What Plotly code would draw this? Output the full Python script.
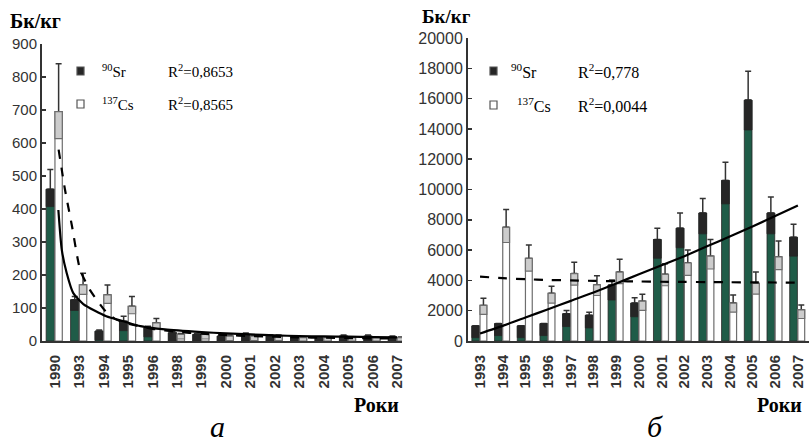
import plotly.graph_objects as go

# ---------------- data ----------------
years_a = ['1990', '1993', '1994', '1995', '1996', '1998', '1999', '2000',
           '2001', '2002', '2003', '2004', '2005', '2006', '2007']
sr_a = [460, 125, 30, 60, 40, 25, 20, 15, 20, 15, 10, 10, 15, 15, 12]
sr_a_err = [60, 10, 3, 15, 5, 4, 3, 3, 4, 3, 2, 2, 3, 3, 3]
cs_a = [695, 170, 140, 105, 55, 20, 20, 15, 15, 15, 10, 10, 10, 10, 10]
cs_a_err = [145, 35, 30, 30, 13, 3, 3, 3, 3, 3, 2, 2, 2, 2, 2]

# trend lines of panel a (position in category units, value)
trend_sr_a_x = [0.14, 0.28, 0.48, 0.75, 1.16, 2.1, 2.8, 3.5, 4.5, 6, 7, 8, 9, 10, 11, 12, 13, 14]
trend_sr_a_y = [397, 276, 206, 145, 112, 75, 60, 45, 35, 27, 23, 20, 17, 15, 14, 13, 12, 11]
trend_cs_a_x = [0.15, 0.41, 0.7, 1.03, 1.43, 2.13, 2.54, 3, 4, 5, 6, 7, 8, 9, 10, 11, 12, 13, 14]
trend_cs_a_y = [580, 459, 347, 216, 155, 85, 64, 52, 37, 28, 22, 18, 15, 13, 11, 10, 9, 8, 8]

years_b = ['1993', '1994', '1995', '1996', '1997', '1998', '1999', '2000',
           '2001', '2002', '2003', '2004', '2005', '2006', '2007']
sr_b = [1000, 1150, 1000, 1150, 1800, 1700, 3700, 2500, 6700, 7450, 8450, 10600, 15900, 8450, 6850]
sr_b_err = [0, 0, 0, 0, 220, 200, 330, 350, 750, 1000, 950, 1200, 1900, 1050, 850]
cs_b = [2350, 7500, 5450, 3150, 4450, 3700, 4550, 2630, 4400, 5150, 5600, 2500, 3800, 5550, 2050]
cs_b_err = [470, 1180, 880, 470, 750, 600, 850, 450, 700, 850, 1100, 530, 750, 1050, 330]

trend_sr_b = [500, 1000, 1550, 2100, 2650, 3200, 3800, 4400, 5000, 5600, 6250, 6900, 7550, 8250, 8950]
trend_cs_b = [4250, 4150, 4080, 4030, 4000, 3970, 3950, 3930, 3910, 3900, 3890, 3880, 3870, 3860, 3850]

r2_a = ['0,8653', '0,8565']
r2_b = ['0,778', '0,0044']

# ---------------- styling ----------------
W, H = 809, 443
GREEN = '#1f5c48'
DARK = '#262626'
CS_LINE = '#6e6e6e'
CS_TOP = '#cccccc'
AX = '#333333'


def px(x):
    return x / W


def py(y):
    return 1 - y / H


fig = go.Figure()


def add_panel(xa, ya, sr, sr_err, cs, cs_err, dark_frac, dark_min, cs_frac, cs_min):
    idx = list(range(len(sr)))
    sr_dark = [min(v, dark_frac * v + dark_min) for v in sr]
    cs_dark = [min(v, cs_frac * v + cs_min) for v in cs]
    fig.add_trace(go.Bar(x=idx, y=sr, offset=-0.36, width=0.34, xaxis=xa, yaxis=ya,
                         marker=dict(color=GREEN, line=dict(color=DARK, width=0.8)),
                         error_y=dict(type='data', array=sr_err, arrayminus=[0] * len(sr),
                                      symmetric=False, color=AX, thickness=1.5, width=3),
                         showlegend=False, hoverinfo='skip'))
    fig.add_trace(go.Bar(x=idx, y=sr_dark, base=[v - d for v, d in zip(sr, sr_dark)],
                         offset=-0.36, width=0.34, xaxis=xa, yaxis=ya,
                         marker=dict(color=DARK, line=dict(color=DARK, width=0.8)),
                         showlegend=False, hoverinfo='skip'))
    fig.add_trace(go.Bar(x=idx, y=cs, offset=0.0, width=0.3, xaxis=xa, yaxis=ya,
                         marker=dict(color='white', line=dict(color=CS_LINE, width=1.2)),
                         error_y=dict(type='data', array=cs_err, arrayminus=[0] * len(cs),
                                      symmetric=False, color=AX, thickness=1.5, width=3),
                         showlegend=False, hoverinfo='skip'))
    fig.add_trace(go.Bar(x=idx, y=cs_dark, base=[v - d for v, d in zip(cs, cs_dark)],
                         offset=0.0, width=0.3, xaxis=xa, yaxis=ya,
                         marker=dict(color=CS_TOP, line=dict(color=CS_LINE, width=1.2)),
                         showlegend=False, hoverinfo='skip'))


add_panel('x', 'y', sr_a, sr_a_err, cs_a, cs_a_err, 0.06, 25, 0.1, 12)
add_panel('x2', 'y2', sr_b, sr_b_err, cs_b, cs_b_err, 0.08, 700, 0.08, 400)

# trend lines
fig.add_trace(go.Scatter(x=trend_sr_a_x, y=trend_sr_a_y, mode='lines', xaxis='x', yaxis='y',
                         line=dict(color='black', width=2.2, shape='spline', smoothing=0.6),
                         showlegend=False, hoverinfo='skip'))
fig.add_trace(go.Scatter(x=trend_cs_a_x, y=trend_cs_a_y, mode='lines', xaxis='x', yaxis='y',
                         line=dict(color='black', width=2.2, dash='dash', shape='spline', smoothing=0.6),
                         showlegend=False, hoverinfo='skip'))
fig.add_trace(go.Scatter(x=list(range(len(trend_sr_b))), y=trend_sr_b, mode='lines', xaxis='x2', yaxis='y2',
                         line=dict(color='black', width=2.2, shape='spline', smoothing=0.6),
                         showlegend=False, hoverinfo='skip'))
fig.add_trace(go.Scatter(x=list(range(len(trend_cs_b))), y=trend_cs_b, mode='lines', xaxis='x2', yaxis='y2',
                         line=dict(color='black', width=2.2, dash='dash', shape='spline', smoothing=0.6),
                         showlegend=False, hoverinfo='skip'))

tick_font_y_a = dict(family='Liberation Sans', size=15, color=AX)
tick_font_y_b = dict(family='Liberation Sans Narrow, Liberation Sans', size=16, color=AX)
tick_font_x = dict(family='Liberation Sans', size=15, color=AX, weight='bold')

common_x = dict(showline=True, linecolor=AX, linewidth=2, ticks='', showgrid=False,
                zeroline=False, tickangle=-90, tickfont=tick_font_x, ticklabelstandoff=6,
                fixedrange=True, automargin=False)
common_y = dict(showline=True, linecolor=AX, linewidth=2, ticks='inside', ticklen=4,
                tickcolor=AX, tickwidth=1.5, showgrid=False, zeroline=False, fixedrange=True,
                automargin=False, tickformat='d')

fig.update_layout(
    template='none',
    width=W, height=H, margin=dict(l=0, r=0, t=0, b=0, pad=0, autoexpand=False),
    paper_bgcolor='white', plot_bgcolor='white', barmode='overlay',
    xaxis=dict(domain=[px(42), px(402)], range=[-0.53, 14.2],
               tickvals=list(range(len(years_a))), ticktext=years_a, anchor='y', **common_x),
    yaxis=dict(domain=[py(341), py(44)], range=[0, 900], dtick=100, anchor='x',
               tickfont=tick_font_y_a, **common_y),
    xaxis2=dict(domain=[px(468), 1.0], range=[-0.53, 14.49],
                tickvals=list(range(len(years_b))), ticktext=years_b, anchor='y2', **common_x),
    yaxis2=dict(domain=[py(341), py(38)], range=[0, 20000], dtick=2000, anchor='x2',
                tickfont=tick_font_y_b, **common_y),
)

serif_b = dict(family='Liberation Serif', size=20, color='black', weight='bold')
serif_b2 = dict(family='Liberation Serif', size=19, color='black', weight='bold')
ann = []


def text(x, y, s, font, xanchor='left'):
    ann.append(dict(x=px(x), y=py(y), xref='paper', yref='paper', text=s, showarrow=False,
                    xanchor=xanchor, yanchor='middle', font=font))


text(8, 21, 'Бк/кг', serif_b)
text(420, 17, 'Бк/кг', serif_b2)
text(401, 405, 'Роки', serif_b, 'right')
text(804, 405, 'Роки', serif_b, 'right')
ital = dict(family='Liberation Serif', size=30, color='black', style='italic')
text(218, 426, 'а', ital, 'center')
text(655, 426, 'б', ital, 'center')

leg_a = dict(family='Liberation Serif', size=15, color='black')
leg_b = dict(family='Liberation Serif', size=16, color='black')
text(100, 71, '<sup>90</sup>Sr', leg_a)
text(100, 104, '<sup>137</sup>Cs', leg_a)
text(166, 71, 'R<sup>2</sup>=' + r2_a[0], leg_a)
text(166, 104, 'R<sup>2</sup>=' + r2_a[1], leg_a)
text(509, 71, '<sup>90</sup>Sr', leg_b)
text(515, 105, '<sup>137</sup>Cs', leg_b)
text(576, 71, 'R<sup>2</sup>=' + r2_b[0], leg_b)
text(576, 105, 'R<sup>2</sup>=' + r2_b[1], leg_b)
fig.update_layout(annotations=ann)

shapes = []
for (x0, y0, filled) in [(77, 67, True), (77, 100, False), (490, 67, True), (490, 101, False)]:
    shapes.append(dict(type='rect', xref='paper', yref='paper',
                       x0=px(x0), x1=px(x0 + 7), y0=py(y0 + 8), y1=py(y0),
                       fillcolor=DARK if filled else 'white',
                       line=dict(color='#555555', width=1.2)))
fig.update_layout(shapes=shapes)

fig.write_html('out.html', config={'displayModeBar': False, 'staticPlot': True},
               post_script="document.body.style.margin='0';document.body.style.overflow='hidden';")
